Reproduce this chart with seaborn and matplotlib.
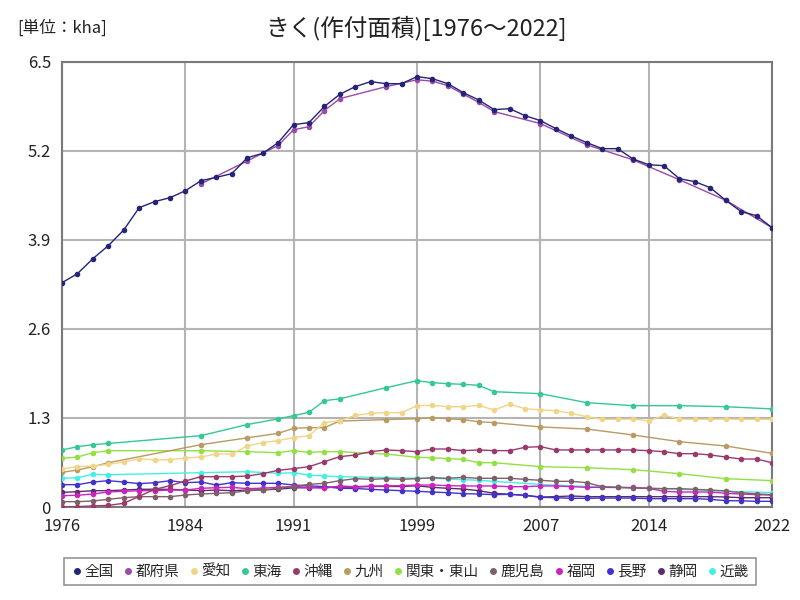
import numpy as np
import pandas as pd
import matplotlib
matplotlib.use("Agg")
import matplotlib.pyplot as plt
from matplotlib.lines import Line2D
import seaborn as sns

sns.set_theme(style="white")
plt.rcParams['font.family'] = ['Noto Sans CJK JP', 'DejaVu Sans']

years_all = list(range(1976, 2023))
years_reg = [1976, 1977, 1978, 1979, 1985, 1988, 1990, 1991, 1992, 1993, 1994, 1997, 1999,
             2000, 2001, 2002, 2003, 2004, 2007, 2010, 2013, 2016, 2019, 2022]
years_pref = years_reg[4:]

zenkoku = [3.276, 3.408, 3.627, 3.817, 4.046, 4.372, 4.46, 4.518, 4.62, 4.766, 4.815, 4.869,
           5.10, 5.166, 5.32, 5.585, 5.614, 5.85, 6.028, 6.14, 6.213, 6.183, 6.183, 6.286,
           6.256, 6.183, 6.052, 5.945, 5.804, 5.818, 5.716, 5.643, 5.526, 5.419, 5.322, 5.234,
           5.234, 5.083, 5.0, 4.985, 4.796, 4.752, 4.664, 4.48, 4.314, 4.255, 4.08]
tofuken = [4.72, 5.054, 5.28, 5.51, 5.555, 5.79, 5.964, 6.14, 6.24, 6.22, 6.154, 6.03, 5.91,
           5.775, 5.6, 5.29, 5.07, 4.78, 4.48, 4.08]
aichi = [0.555, 0.589, 0.599, 0.623, 0.657, 0.706, 0.687, 0.691, 0.716, 0.730, 0.774, 0.774,
         0.891, 0.94, 0.969, 1.013, 1.042, 1.232, 1.261, 1.339, 1.368, 1.378, 1.378, 1.48,
         1.485, 1.465, 1.465, 1.485, 1.417, 1.5, 1.436, 1.417, 1.407, 1.368, 1.319, 1.281,
         1.281, 1.285, 1.256, 1.339, 1.285, 1.281, 1.281, 1.285, 1.281, 1.281, 1.281]
tokai = [0.833, 0.881, 0.910, 0.928, 1.042, 1.204, 1.288, 1.334, 1.383, 1.553, 1.580, 1.743,
         1.845, 1.816, 1.801, 1.792, 1.777, 1.684, 1.655, 1.524, 1.480, 1.480, 1.465, 1.433]
okinawa = [0.0, 0.005, 0.015, 0.024, 0.054, 0.156, 0.258, 0.311, 0.38, 0.443, 0.443, 0.443,
           0.453, 0.487, 0.536, 0.56, 0.589, 0.662, 0.735, 0.76, 0.808, 0.833, 0.823, 0.808,
           0.847, 0.847, 0.823, 0.833, 0.823, 0.823, 0.872, 0.881, 0.833, 0.833, 0.833, 0.833,
           0.833, 0.833, 0.823, 0.808, 0.779, 0.779, 0.76, 0.73, 0.701, 0.701, 0.647]
kyushu = [0.507, 0.54, 0.589, 0.647, 0.91, 1.01, 1.076, 1.149, 1.159, 1.159, 1.256, 1.276,
          1.29, 1.305, 1.29, 1.276, 1.246, 1.232, 1.169, 1.139, 1.052, 0.954, 0.891, 0.784]
kanto = [0.711, 0.730, 0.793, 0.822, 0.822, 0.808, 0.793, 0.823, 0.798, 0.808, 0.808, 0.774,
         0.725, 0.720, 0.706, 0.696, 0.647, 0.647, 0.589, 0.574, 0.545, 0.487, 0.414, 0.385]
kagoshima = [0.078, 0.078, 0.088, 0.112, 0.136, 0.151, 0.151, 0.151, 0.175, 0.19, 0.20, 0.209,
             0.238, 0.248, 0.273, 0.297, 0.331, 0.346, 0.385, 0.414, 0.404, 0.414, 0.404, 0.414,
             0.428, 0.419, 0.433, 0.419, 0.419, 0.419, 0.404, 0.39, 0.375, 0.375, 0.355, 0.297,
             0.287, 0.277, 0.273, 0.268, 0.268, 0.258, 0.248, 0.234, 0.209, 0.19, 0.18]
fukuoka = [0.166, 0.171, 0.19, 0.219, 0.229, 0.238, 0.238, 0.248, 0.248, 0.273, 0.282, 0.287,
           0.268, 0.275, 0.287, 0.30, 0.287, 0.273, 0.307, 0.297, 0.307, 0.307, 0.312, 0.321,
           0.321, 0.312, 0.307, 0.307, 0.307, 0.297, 0.297, 0.307, 0.307, 0.297, 0.287, 0.287,
           0.285, 0.285, 0.273, 0.229, 0.219, 0.219, 0.219, 0.2, 0.19, 0.18, 0.175]
nagano = [0.326, 0.326, 0.365, 0.384, 0.365, 0.341, 0.355, 0.384, 0.355, 0.365, 0.321, 0.355,
          0.346, 0.346, 0.346, 0.321, 0.31, 0.297, 0.273, 0.27, 0.258, 0.248, 0.238, 0.229,
          0.219, 0.209, 0.195, 0.19, 0.18, 0.185, 0.171, 0.141, 0.136, 0.127, 0.127, 0.131,
          0.131, 0.131, 0.122, 0.122, 0.122, 0.122, 0.112, 0.093, 0.09, 0.083, 0.083]
shizuoka = [0.214, 0.224, 0.238, 0.238, 0.248, 0.258, 0.26, 0.258, 0.248, 0.238, 0.248, 0.238,
            0.248, 0.25, 0.26, 0.28, 0.28, 0.29, 0.29, 0.29, 0.30, 0.30, 0.30, 0.31,
            0.287, 0.273, 0.263, 0.238, 0.2, 0.185, 0.171, 0.146, 0.151, 0.161, 0.151, 0.151,
            0.151, 0.151, 0.151, 0.151, 0.151, 0.151, 0.151, 0.146, 0.136, 0.136, 0.136]
kinki = [0.419, 0.429, 0.477, 0.472, 0.501, 0.516, 0.492, 0.501, 0.467, 0.453, 0.443, 0.43,
         0.42, 0.42, 0.41, 0.40, 0.39, 0.375, 0.33, 0.30, 0.28, 0.26, 0.23, 0.21]

series = [
    ("全国", years_all, zenkoku, "#25237a"),
    ("都府県", years_pref, tofuken, "#9a4aa8"),
    ("愛知", years_all, aichi, "#f0d488"),
    ("東海", years_reg, tokai, "#34c894"),
    ("沖縄", years_all, okinawa, "#9a3a6c"),
    ("九州", years_reg, kyushu, "#b89a62"),
    ("関東・東山", years_reg, kanto, "#92e044"),
    ("鹿児島", years_all, kagoshima, "#7e6068"),
    ("福岡", years_all, fukuoka, "#cc22c0"),
    ("長野", years_all, nagano, "#4232cc"),
    ("静岡", years_all, shizuoka, "#5a2e6e"),
    ("近畿", years_reg, kinki, "#44f0e6"),
]

rows = []
for name, yrs, vals, col in series:
    for y, v in zip(yrs, vals):
        rows.append({"series": name, "year": y, "value": v})
df = pd.DataFrame(rows)

fig = plt.figure(figsize=(8, 6), dpi=100)
ax = fig.add_axes([0.0775, 0.155, 0.8875, 0.7417])

for name, _, _, col in reversed(series):
    sub = df[df["series"] == name]
    sns.lineplot(data=sub, x="year", y="value", color=col, marker="o", markersize=4,
                 markeredgewidth=0, linewidth=1.0, ax=ax, legend=False,
                 zorder=3 if name != "全国" else 4)

ax.set_xlim(1976, 2022)
ax.set_ylim(0, 6.5)
xt = [1976, 1984, 1991, 1999, 2007, 2014, 2022]
yt = [0, 1.3, 2.6, 3.9, 5.2, 6.5]
ax.set_xticks(xt)
ax.set_xticklabels([str(x) for x in xt], fontsize=12)
ax.set_yticks(yt)
ax.set_yticklabels(["0", "1.3", "2.6", "3.9", "5.2", "6.5"], fontsize=12)
ax.tick_params(axis="both", length=0, pad=8, colors="#222222")
ax.grid(True, color="#b4b4b4", linewidth=1.5)
ax.set_axisbelow(True)
for s in ax.spines.values():
    s.set_color("#7a7a7a")
    s.set_linewidth(1.5)
ax.set_xlabel("")
ax.set_ylabel("")

fig.text(0.52, 0.953, "きく(作付面積)[1976～2022]", ha="center", va="center", fontsize=17, color="#222222")
fig.text(0.022, 0.953, "[単位：kha]", ha="left", va="center", fontsize=12, color="#222222")

handles = [Line2D([], [], marker="o", linestyle="", color=col, markersize=5, markeredgewidth=0)
           for _, _, _, col in series]
labels = [name for name, _, _, _ in series]
leg = fig.legend(handles, labels, loc="center", bbox_to_anchor=(0.5125, 0.047), ncol=12,
                 fontsize=10.5, frameon=True, fancybox=False, handletextpad=0.1,
                 columnspacing=0.6, handlelength=0.8, borderpad=0.45, borderaxespad=0)
leg.get_frame().set_edgecolor("#7a7a7a")
leg.get_frame().set_linewidth(1.2)

fig.savefig("out.png", dpi=100)
